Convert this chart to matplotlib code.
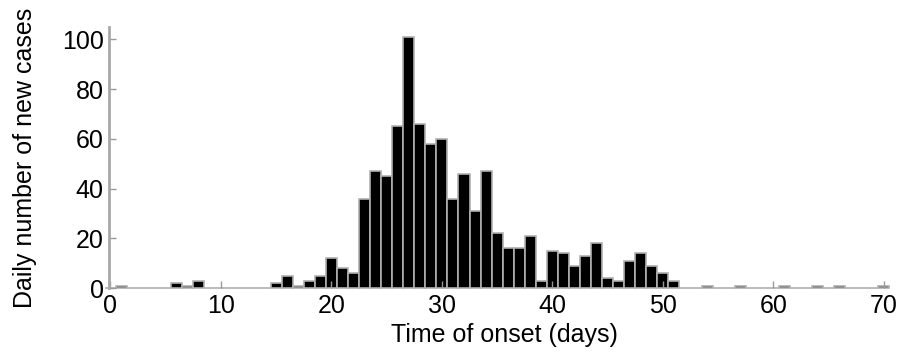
import numpy as np
import matplotlib
matplotlib.use('Agg')
import matplotlib.pyplot as plt

# daily counts of new cases, day 0 .. day 70
days = np.arange(0, 71)
cases = [0, 1, 0, 0, 0, 0, 2, 1, 3, 0,
         0, 0, 0, 0, 0, 2, 5, 1, 3, 5,
         12, 8, 6, 36, 47, 45, 65, 101, 66, 58,
         60, 36, 46, 31, 47, 22, 16, 16, 21, 3,
         15, 14, 9, 13, 18, 4, 3, 11, 14, 9,
         6, 3, 0, 0, 1, 0, 0, 1, 0, 0,
         0, 1, 0, 0, 1, 0, 1, 0, 0, 0,
         1]
xticks = [0, 10, 20, 30, 40, 50, 60, 70]
yticks = [0, 20, 40, 60, 80, 100]

plt.rcParams['font.family'] = 'Liberation Sans'
plt.rcParams['font.size'] = 18

fig = plt.figure(figsize=(9.04, 3.52), dpi=100)
ax = fig.add_axes([0.121, 0.181, 0.875, 0.743])

# zero-day bars keep their grey outline, which gives the dashed baseline
ax.bar(days, cases, width=1.0, color='black', edgecolor='#b0b0b0',
       linewidth=1.2, align='center', clip_on=False)

ax.set_xlim(-0.1, 71.5)
ax.set_ylim(0, 105)
ax.set_xticks(xticks)
ax.set_yticks(yticks)
ax.tick_params(direction='in', length=5, color='#999999', width=1,
               labelsize=18, pad=4)

for side in ['top', 'right', 'bottom']:
    ax.spines[side].set_visible(False)
ax.spines['left'].set_color('#a8a8a8')
ax.spines['left'].set_linewidth(2)

ax.set_xlabel('Time of onset (days)', fontsize=18, labelpad=4)
ax.set_ylabel('Daily number of new cases', fontsize=18, labelpad=18)

fig.savefig('out.png', dpi=100)
